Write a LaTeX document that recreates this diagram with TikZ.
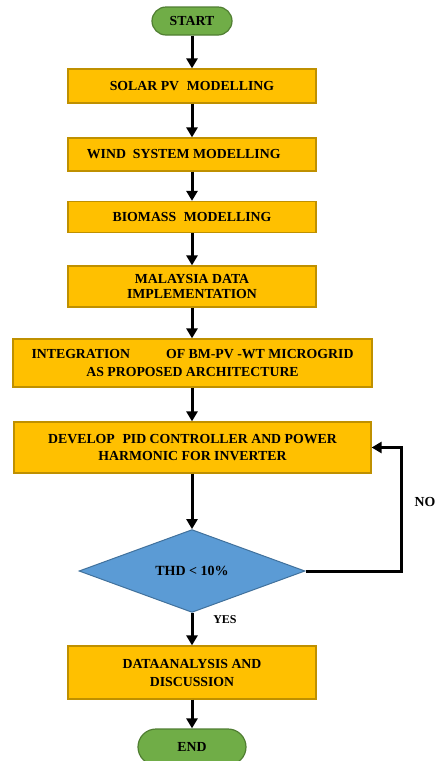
\documentclass[tikz,border=0pt]{standalone}
\usepackage{fontspec}
\setmainfont{Liberation Serif}
\usetikzlibrary{shapes.geometric,arrows.meta}
\definecolor{boxfill}{HTML}{FFC000}
\definecolor{boxline}{HTML}{BF9000}
\definecolor{termfill}{HTML}{70AD47}
\definecolor{termline}{HTML}{507E32}
\definecolor{decfill}{HTML}{5B9BD5}
\definecolor{decline}{HTML}{41719C}
\begin{document}
\begin{tikzpicture}[x=1pt,y=-1pt,
  every node/.style={font=\fontsize{13.8}{15.5}\selectfont\bfseries, text=black, align=center, inner sep=0pt},
  widelines/.style={font=\fontsize{13.8}{18}\selectfont\bfseries},
  procbox/.style={rectangle, draw=boxline, fill=boxfill, line width=1.2pt},
  termbox/.style={rectangle, rounded corners=14pt, draw=termline, fill=termfill, line width=1.2pt},
  decbox/.style={diamond, draw=decline, fill=decfill, line width=1pt},
  conn/.style={line width=3pt, -{Triangle[width=11pt,length=10pt]}}
]
\useasboundingbox (0,0) rectangle (442,761);

\node[termbox, minimum width=80pt, minimum height=28pt] (start) at (192,21) {START};
\node[procbox, minimum width=248pt, minimum height=34pt] (solar) at (192,86) {SOLAR PV\hspace{0.3em} MODELLING};
\node[procbox, minimum width=248pt, minimum height=33pt] (wind) at (192,154.5) {WIND \hspace{0.25em}SYSTEM MODELLING\hspace{1.2em}};
\node[procbox, minimum width=248pt, minimum height=31pt] (bio) at (192,217) {BIOMASS\hspace{0.3em} MODELLING};
\node[procbox, minimum width=248pt, minimum height=41pt] (malay) at (192,286.5) {MALAYSIA DATA\\IMPLEMENTATION};
\node[procbox, widelines, minimum width=359pt, minimum height=48pt] (integ) at (192.5,363) {INTEGRATION\hspace{2.6em}OF BM-PV -WT MICROGRID\hspace{0.8em}\\AS PROPOSED ARCHITECTURE\hspace{1.6em}};
\node[procbox, font=\fontsize{13.8}{17}\selectfont\bfseries, minimum width=357pt, minimum height=51pt] (dev) at (192.5,447.5) {DEVELOP \hspace{0.3em}PID CONTROLLER AND POWER\\HARMONIC FOR INVERTER};
\node[decbox, minimum width=226pt, minimum height=78pt, font=\fontsize{14}{16}\selectfont\bfseries] (thd) at (192,571) {THD < 10\%};
\node[procbox, widelines, minimum width=248pt, minimum height=53pt] (data) at (192,672.5) {DATAANALYSIS AND\hspace{1em}\\DISCUSSION};
\node[termbox, minimum width=108pt, minimum height=36pt, rounded corners=18pt] (end) at (192,747) {END};

\node (no) at (425,502) {NO};
\node[font=\fontsize{12}{14}\selectfont\bfseries] (yes) at (225,620) {YES};

\draw[conn] (start) -- (solar);
\draw[conn] (solar) -- (wind);
\draw[conn] (wind) -- (bio);
\draw[conn] (bio) -- (malay);
\draw[conn] (malay.south -| solar.south) -- (integ.north -| solar.south);
\draw[conn] (integ.south -| solar.south) -- (dev.north -| solar.south);
\draw[conn] (dev.south -| thd.north) -- (thd.north);
\draw[conn] (thd) -- (data);
\draw[conn] (data) -- (end);
\draw[conn] (thd.east) -- ++(96,0) |- (dev.east);
\end{tikzpicture}
\end{document}
